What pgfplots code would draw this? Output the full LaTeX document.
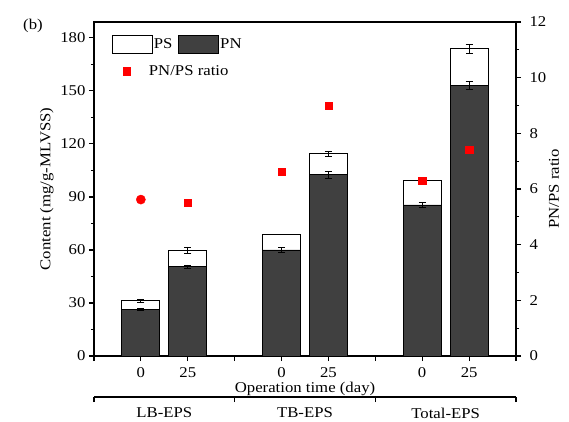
\documentclass[border=0pt]{standalone}
\usepackage{fontspec}
\setmainfont{Liberation Serif}[FakeStretch=1.12]
\usepackage{pgfplots}
\usepackage{pgfplotstable}
\pgfplotsset{compat=1.18}
\definecolor{darkbar}{HTML}{404040}
\pgfplotstableread{
x      tot    tote  pn     pne
0.333  31.2   0.8   26.4   0.5
0.667  59.8   1.9   50.5   1.0
1.333  68.9   0.0   60.0   1.2
1.667  114.4  1.2   102.6  2.0
2.333  99.6   0.0   85.5   1.6
2.667  174.0  2.5   153.3  2.3
}\bars
\pgfplotstableread{
x      r
0.667  5.50
1.333  6.62
1.667  9.00
2.333  6.29
2.667  7.41
}\ratio
\begin{document}
\begin{tikzpicture}[font=\fontsize{15}{18}\selectfont]
\path[use as bounding box] (-94bp,-66bp) rectangle (475bp,356bp);
\pgfplotsset{every axis/.append style={
  scale only axis, width=422bp, height=334bp, at={(0,0)}, anchor=south west,
  xmin=0, xmax=3,
  axis line style={line width=1.1bp, black},
  tick align=outside, major tick length=5bp, minor tick length=3bp,
  every tick/.style={line width=1.1bp, black},
  /pgf/number format/assume math mode=true,
  tick label style={font=\fontsize{15}{18}\selectfont},
  label style={font=\fontsize{15}{18}\selectfont},
  legend style={font=\fontsize{15}{18}\selectfont, draw=none, fill=none, inner sep=0pt, outer sep=0pt,
    nodes={inner sep=1bp}},
}}
\node at (-61bp,330bp) {(b)};
% left axis with bars
\begin{axis}[
  ymin=0, ymax=189,
  xtick={0.333,0.667,1.333,1.667,2.333,2.667}, xticklabels={0,25,0,25,0,25},
  extra x ticks={0,1,2,3}, extra x tick labels={},
  xtick pos=bottom, ytick pos=left,
  ytick={0,30,...,180}, minor y tick num=1,
  xticklabel style={yshift=-3bp},
  ylabel={Content (mg/g-MLVSS)}, xlabel={Operation time (day)},
  xlabel style={yshift=12bp},
  ybar, bar width=38bp, bar shift=0pt,
  legend columns=2,
  legend style={at={(rel axis cs:0.0427,0.934)}, anchor=west,
    /tikz/every even column/.append style={column sep=5bp}},
  legend image code/.code={\draw[#1] (0bp,-9bp) rectangle (40bp,9bp);},
]
\addplot[fill=white, draw=black, line width=0.8bp,
  error bars/.cd, y dir=both, y explicit,
  error bar style={line width=0.8bp, black},
  error mark options={rotate=90, mark size=3.5bp, line width=0.8bp, black}]
  table[x=x, y=tot, y error=tote] {\bars};
\addlegendentry{PS}
\addplot[fill=darkbar, draw=black, line width=0.8bp,
  error bars/.cd, y dir=both, y explicit,
  error bar style={line width=0.8bp, black},
  error mark options={rotate=90, mark size=3.5bp, line width=0.8bp, black}]
  table[x=x, y=pn, y error=pne] {\bars};
\addlegendentry{PN}
\end{axis}
% right axis with ratio
\begin{axis}[
  ymin=0, ymax=12,
  axis y line*=right, axis x line=none,
  ytick={0,2,...,12}, minor y tick num=1,
  yticklabel style={xshift=5bp},
  ylabel={PN/PS ratio}, ylabel shift=-4bp,
  legend style={at={(rel axis cs:0.0581,0.853)}, anchor=west},
  legend image code/.code={\path (0bp,0bp) (29bp,0bp);
    \draw[#1,mark repeat=2,mark phase=2] plot coordinates {(0bp,0bp) (8bp,0bp) (22bp,0bp)};},
]
\addplot[only marks, mark=square*, mark size=3.7bp, color=red] table[x=x, y=r] {\ratio};
\addlegendentry{PN/PS ratio}
\addplot[only marks, mark=*, mark size=4.6bp, color=red, forget plot] coordinates {(0.333,5.62)};
\end{axis}
% group bracket axis
\begin{axis}[
  height=10bp, at={(0,-41bp)},
  ymin=0, ymax=1,
  axis x line*=bottom, axis y line=none,
  xtick={0,1,2,3}, xticklabels={},
  extra x ticks={0.5,1.5,2.5}, extra x tick labels={LB-EPS,TB-EPS,Total-EPS},
  extra x tick style={major tick length=0pt, tick style={draw=none},
    xticklabel style={yshift=-7.5bp}},
]
\addplot[draw=none] coordinates {(0,0)};
\end{axis}
\end{tikzpicture}
\end{document}
